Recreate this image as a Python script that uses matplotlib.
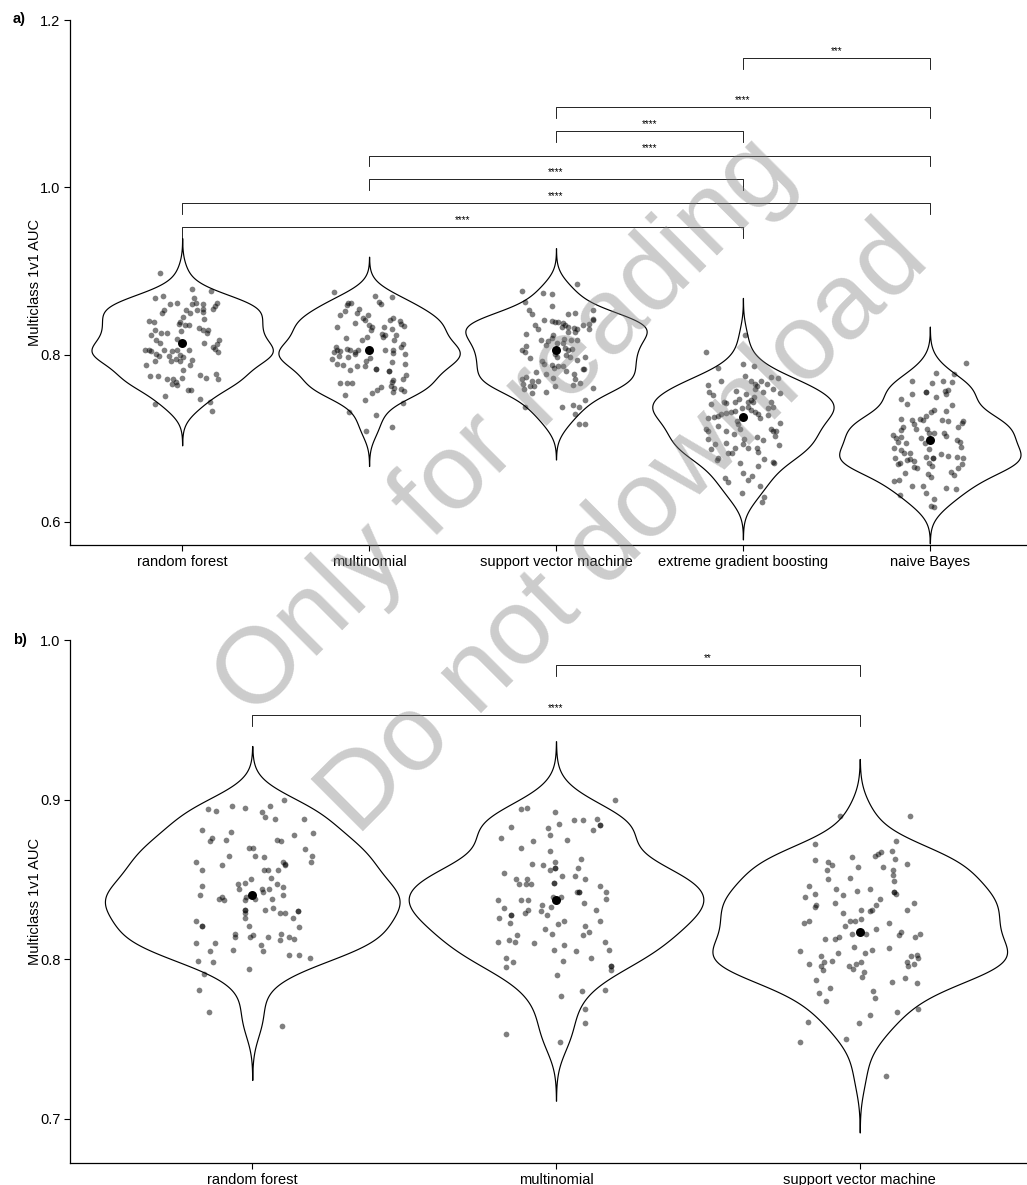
import numpy as np
import matplotlib
matplotlib.use("Agg")
import matplotlib.pyplot as plt

plt.rcParams['font.family'] = ['Liberation Sans', 'DejaVu Sans']

# ---------------- categories ----------------
cats_a = ['random forest', 'multinomial', 'support vector machine',
          'extreme gradient boosting', 'naive Bayes']
cats_b = ['random forest', 'multinomial', 'support vector machine']

# ---------------- panel a data (AUC values and horizontal jitter) ----------------
rf_a_auc = [0.898,0.879,0.876,0.868,0.870,0.868,0.860,0.862,0.860,0.862,
            0.860,0.862,0.858,0.853,0.850,0.853,0.850,0.853,0.855,0.851,
            0.854,0.845,0.839,0.843,0.840,0.839,0.837,0.836,0.836,0.830,
            0.826,0.826,0.828,0.832,0.830,0.830,0.826,0.824,0.818,0.814,
            0.819,0.814,0.817,0.813,0.809,0.807,0.803,0.805,0.806,0.804,
            0.801,0.805,0.804,0.805,0.805,0.800,0.798,0.798,0.793,0.795,
            0.797,0.794,0.793,0.792,0.788,0.788,0.782,0.775,0.775,0.771,
            0.771,0.767,0.765,0.764,0.772,0.776,0.772,0.777,0.771,0.758,
            0.758,0.750,0.747,0.741,0.743,0.733]
rf_a_jit = [-0.118,0.050,0.154,-0.145,-0.104,0.064,-0.064,-0.029,0.055,0.073,
            0.113,0.189,0.177,-0.096,-0.109,0.020,0.041,0.077,0.109,0.114,
            0.166,0.005,-0.013,0.118,-0.180,-0.150,-0.016,0.016,0.034,-0.146,
            -0.114,-0.079,-0.005,0.091,0.114,0.138,0.134,-0.168,-0.141,-0.120,
            -0.025,0.116,0.195,0.184,0.163,0.177,0.191,-0.198,-0.180,-0.168,
            -0.141,-0.096,-0.052,-0.025,0.038,-0.013,-0.123,-0.073,-0.061,-0.034,
            0.007,0.052,-0.145,-0.013,-0.196,0.043,0.005,-0.170,-0.127,-0.080,
            -0.048,-0.034,-0.052,-0.025,-0.002,0.096,0.127,0.180,0.193,0.030,
            0.048,-0.093,0.095,-0.145,0.148,0.159]

mn_a_auc = [0.875,0.870,0.863,0.860,0.869,0.862,0.862,0.859,0.854,0.850,
            0.848,0.852,0.848,0.844,0.841,0.844,0.841,0.840,0.837,0.834,
            0.838,0.833,0.836,0.833,0.829,0.833,0.831,0.825,0.821,0.823,
            0.823,0.817,0.813,0.809,0.820,0.817,0.821,0.809,0.807,0.805,
            0.805,0.804,0.803,0.803,0.805,0.806,0.806,0.802,0.801,0.798,
            0.797,0.801,0.795,0.793,0.796,0.791,0.789,0.789,0.788,0.786,
            0.786,0.783,0.783,0.780,0.780,0.782,0.776,0.771,0.770,0.767,
            0.763,0.760,0.759,0.757,0.755,0.766,0.766,0.766,0.761,0.758,
            0.754,0.752,0.746,0.742,0.732,0.728,0.713,0.709]
mn_a_jit = [-0.188,0.032,0.054,0.066,0.121,-0.113,-0.095,-0.116,-0.054,-0.066,
            -0.157,-0.130,-0.005,-0.030,-0.021,0.129,0.111,0.164,0.173,0.188,
            -0.077,-0.173,0.000,0.018,0.009,0.080,0.123,0.071,0.077,0.084,
            0.143,0.134,0.184,0.170,-0.125,-0.039,-0.013,-0.179,-0.120,-0.102,
            -0.170,-0.155,-0.188,-0.075,-0.057,0.084,0.129,0.130,0.193,-0.161,
            -0.113,-0.075,-0.200,-0.018,0.005,0.125,0.191,-0.173,-0.138,-0.063,
            -0.021,0.036,0.036,0.107,0.107,-0.102,0.196,0.184,0.130,0.120,
            0.116,0.134,0.173,0.188,0.130,-0.155,-0.120,-0.089,0.063,0.041,
            0.013,-0.129,-0.021,0.184,-0.107,0.039,0.121,-0.018]

svm_a_auc = [0.885,0.876,0.874,0.872,0.863,0.858,0.853,0.849,0.849,0.850,
             0.853,0.841,0.840,0.839,0.839,0.838,0.836,0.833,0.833,0.832,
             0.831,0.836,0.837,0.843,0.841,0.831,0.835,0.831,0.827,0.827,
             0.825,0.824,0.820,0.818,0.816,0.819,0.818,0.818,0.811,0.814,
             0.814,0.808,0.806,0.807,0.805,0.803,0.810,0.801,0.797,0.796,
             0.800,0.797,0.794,0.797,0.792,0.789,0.788,0.784,0.787,0.787,
             0.781,0.779,0.777,0.772,0.777,0.783,0.783,0.773,0.771,0.768,
             0.768,0.765,0.762,0.763,0.759,0.754,0.755,0.763,0.771,0.766,
             0.764,0.760,0.746,0.740,0.738,0.738,0.737,0.729,0.717,0.717]
svm_a_jit = [0.113,-0.184,-0.068,-0.023,-0.166,-0.023,-0.143,-0.130,0.066,0.102,
             0.196,-0.064,-0.023,-0.005,0.013,0.036,0.048,0.030,0.066,0.096,
             0.111,0.143,0.179,0.200,0.200,0.179,-0.113,-0.095,0.066,0.102,
             -0.161,-0.018,-0.023,-0.082,-0.041,0.043,0.079,0.114,-0.054,0.004,
             0.039,0.048,0.066,0.084,-0.184,-0.166,-0.161,-0.005,0.004,-0.139,
             0.054,0.075,0.111,0.155,-0.077,-0.064,-0.023,-0.011,0.013,0.036,
             0.054,-0.107,-0.054,-0.018,0.098,0.143,0.150,-0.161,-0.184,-0.130,
             -0.095,-0.175,-0.139,-0.118,-0.171,-0.127,-0.055,-0.005,0.102,0.129,
             0.093,0.196,0.157,0.093,0.125,-0.166,0.030,0.102,0.125,0.157]

xgb_a_auc = [0.823,0.803,0.784,0.789,0.786,0.775,0.769,0.765,0.762,0.768,
             0.765,0.773,0.772,0.764,0.768,0.759,0.754,0.755,0.759,0.755,
             0.752,0.756,0.753,0.749,0.746,0.747,0.744,0.743,0.742,0.741,
             0.744,0.744,0.743,0.737,0.736,0.738,0.734,0.731,0.729,0.736,
             0.733,0.731,0.730,0.729,0.727,0.725,0.724,0.728,0.724,0.721,
             0.717,0.711,0.715,0.711,0.709,0.709,0.705,0.711,0.709,0.709,
             0.718,0.703,0.699,0.693,0.694,0.699,0.693,0.689,0.702,0.698,
             0.687,0.688,0.683,0.682,0.688,0.684,0.692,0.677,0.674,0.675,
             0.672,0.671,0.670,0.667,0.658,0.655,0.650,0.653,0.648,0.643,
             0.630,0.624,0.635]
xgb_a_jit = [0.011,-0.195,-0.136,0.000,0.061,0.011,0.043,0.064,0.073,0.095,
             0.127,0.150,0.189,-0.186,-0.118,0.163,0.198,0.109,0.064,-0.182,
             -0.159,-0.039,0.014,0.061,0.043,-0.021,-0.043,-0.100,-0.093,-0.173,
             0.029,0.055,0.150,0.163,0.132,0.025,0.043,0.064,0.079,-0.007,
             -0.043,-0.064,-0.093,-0.118,-0.132,-0.154,-0.186,0.136,0.089,-0.034,
             -0.029,-0.016,-0.136,-0.200,-0.186,-0.088,-0.046,0.150,0.163,0.177,
             0.198,0.171,-0.189,-0.150,-0.088,0.007,0.002,0.025,0.073,0.109,
             -0.171,-0.043,-0.061,-0.082,0.073,0.079,0.195,-0.136,-0.141,0.113,
             0.163,0.168,-0.014,0.082,-0.002,0.050,0.025,-0.096,-0.082,0.093,
             0.111,0.100,-0.004]

nb_a_auc = [0.790,0.778,0.777,0.768,0.766,0.768,0.767,0.747,0.741,0.753,
            0.755,0.749,0.756,0.758,0.753,0.740,0.734,0.731,0.727,0.723,
            0.722,0.733,0.723,0.722,0.717,0.711,0.722,0.721,0.721,0.718,
            0.714,0.714,0.710,0.711,0.706,0.700,0.695,0.706,0.706,0.703,
            0.698,0.696,0.690,0.704,0.700,0.701,0.694,0.696,0.689,0.686,
            0.683,0.683,0.687,0.678,0.677,0.681,0.679,0.678,0.676,0.676,
            0.671,0.669,0.674,0.675,0.673,0.666,0.664,0.670,0.667,0.669,
            0.665,0.660,0.656,0.659,0.657,0.654,0.649,0.650,0.643,0.643,
            0.635,0.641,0.639,0.632,0.627,0.619,0.618,0.755,0.677]
nb_a_jit = [0.193,0.032,0.129,-0.095,0.014,0.071,0.120,-0.152,-0.120,-0.095,
            -0.018,0.032,0.080,0.095,0.089,0.116,0.021,0.005,-0.021,-0.054,
            -0.036,0.084,-0.155,-0.098,-0.084,-0.075,0.063,0.095,0.179,0.173,
            0.152,-0.143,-0.152,-0.013,-0.005,-0.048,-0.027,0.023,0.077,0.084,
            0.143,0.161,0.166,-0.196,-0.179,-0.152,-0.125,-0.173,-0.191,-0.152,
            -0.107,-0.138,-0.005,-0.021,0.018,0.059,0.095,0.143,0.179,-0.184,
            -0.161,-0.170,-0.120,-0.107,-0.084,-0.084,-0.071,-0.005,0.013,0.173,
            0.152,0.111,0.130,-0.134,-0.009,0.005,-0.191,-0.164,-0.098,-0.036,
            -0.018,0.086,0.139,-0.161,0.023,0.005,0.021,-0.018,0.018]

means_a = [0.814, 0.806, 0.806, 0.726, 0.698]

# ---------------- panel b data ----------------
rf_b_auc = [0.900,0.896,0.895,0.896,0.894,0.893,0.892,0.889,0.888,0.888,
            0.881,0.880,0.876,0.874,0.875,0.875,0.874,0.878,0.879,0.869,
            0.865,0.861,0.870,0.870,0.865,0.864,0.865,0.861,0.859,0.861,
            0.860,0.859,0.856,0.856,0.856,0.856,0.851,0.848,0.850,0.847,
            0.844,0.846,0.840,0.844,0.844,0.847,0.845,0.840,0.842,0.838,
            0.839,0.837,0.839,0.837,0.838,0.838,0.831,0.832,0.831,0.829,
            0.826,0.829,0.829,0.826,0.830,0.824,0.821,0.821,0.820,0.816,
            0.814,0.814,0.815,0.814,0.816,0.814,0.813,0.812,0.810,0.810,
            0.809,0.805,0.806,0.805,0.803,0.803,0.801,0.799,0.798,0.794,
            0.791,0.781,0.767,0.758,0.831,0.830,0.821]
rf_b_jit = [0.105,-0.067,-0.023,0.058,-0.147,-0.118,0.032,0.043,0.075,0.172,
            -0.164,-0.070,-0.131,-0.139,-0.087,0.083,0.094,0.138,0.199,0.175,
            0.197,0.193,-0.010,0.001,0.010,0.040,-0.076,-0.186,-0.100,0.100,
            0.109,0.107,-0.167,0.040,0.051,0.086,0.062,-0.025,-0.005,-0.048,
            -0.043,-0.164,-0.172,0.032,0.056,0.083,0.100,0.102,0.034,-0.109,
            -0.100,-0.092,-0.021,-0.024,0.010,0.065,0.043,0.069,-0.023,-0.025,
            -0.025,0.091,0.107,0.133,0.152,-0.186,-0.167,-0.010,0.153,-0.056,
            -0.058,-0.007,0.001,0.051,0.096,0.122,0.138,0.092,-0.186,-0.122,
            0.029,-0.139,-0.063,0.037,0.122,0.155,0.191,-0.177,-0.128,-0.010,
            -0.160,-0.175,-0.142,0.097,-0.023,0.152,-0.167]

mn_b_auc = [0.894,0.895,0.892,0.885,0.887,0.887,0.888,0.884,0.881,0.883,
            0.882,0.878,0.876,0.874,0.870,0.875,0.868,0.863,0.861,0.857,
            0.860,0.859,0.856,0.857,0.852,0.852,0.854,0.850,0.850,0.847,
            0.847,0.847,0.850,0.848,0.846,0.842,0.838,0.842,0.842,0.835,
            0.837,0.832,0.837,0.837,0.839,0.839,0.834,0.830,0.833,0.831,
            0.829,0.828,0.828,0.826,0.823,0.831,0.824,0.822,0.819,0.816,
            0.821,0.817,0.815,0.824,0.815,0.811,0.812,0.811,0.810,0.809,
            0.806,0.805,0.811,0.806,0.801,0.798,0.795,0.799,0.801,0.796,
            0.793,0.790,0.781,0.780,0.777,0.769,0.760,0.753,0.748,0.900,
            0.884,0.857,0.848,0.842,0.828,0.796]
mn_b_jit = [-0.116,-0.096,-0.003,0.010,0.058,0.088,0.134,0.145,0.121,-0.149,
            -0.025,-0.020,-0.182,-0.075,-0.114,0.035,-0.020,0.081,-0.003,-0.004,
            -0.078,-0.044,-0.020,0.071,0.019,0.063,-0.172,-0.133,-0.094,-0.121,
            -0.098,-0.082,0.097,-0.007,0.144,0.166,0.164,0.068,0.077,0.093,
            -0.191,-0.170,-0.114,-0.091,-0.011,0.015,-0.046,-0.049,-0.016,-0.092,
            -0.103,-0.031,-0.149,-0.189,-0.153,0.131,0.025,0.007,-0.036,-0.014,
            0.097,0.110,0.090,0.146,-0.130,-0.191,-0.154,-0.135,-0.072,0.026,
            -0.008,0.066,0.160,0.174,-0.163,-0.143,-0.165,0.022,0.114,0.182,
            0.182,0.004,0.161,0.087,0.016,0.096,0.096,-0.163,0.013,0.194,
            0.145,-0.004,-0.007,0.077,-0.149,0.182]

svm_b_auc = [0.890,0.890,0.872,0.874,0.862,0.861,0.859,0.856,0.850,0.864,
             0.858,0.851,0.865,0.866,0.867,0.868,0.863,0.860,0.858,0.856,
             0.853,0.849,0.846,0.839,0.841,0.834,0.833,0.844,0.840,0.843,
             0.844,0.835,0.829,0.838,0.834,0.831,0.830,0.831,0.842,0.841,
             0.831,0.835,0.823,0.824,0.824,0.824,0.825,0.821,0.816,0.816,
             0.819,0.823,0.814,0.813,0.813,0.817,0.815,0.814,0.816,0.805,
             0.808,0.804,0.804,0.806,0.807,0.802,0.798,0.796,0.793,0.797,
             0.799,0.796,0.794,0.797,0.798,0.792,0.789,0.798,0.802,0.803,
             0.801,0.796,0.797,0.787,0.782,0.779,0.774,0.786,0.788,0.785,
             0.780,0.776,0.761,0.748,0.750,0.760,0.765,0.767,0.769,0.727,
             0.842]
svm_b_jit = [-0.065,0.166,-0.146,0.118,-0.146,-0.104,-0.093,-0.108,-0.105,-0.024,
             -0.007,-0.031,0.049,0.060,0.071,0.107,0.115,0.155,0.075,0.110,
             0.110,0.112,-0.166,-0.181,-0.148,-0.143,-0.146,-0.077,-0.056,-0.008,
             0.034,-0.080,-0.054,0.066,0.052,0.041,0.034,0.005,0.113,0.119,
             0.156,0.179,-0.183,-0.168,-0.033,-0.014,0.005,-0.049,-0.027,0.019,
             0.054,0.096,-0.068,-0.082,-0.115,0.135,0.128,0.182,0.199,-0.197,
             -0.018,-0.071,0.016,0.040,0.097,-0.128,-0.118,-0.128,-0.120,-0.166,
             -0.093,-0.035,-0.022,-0.011,0.003,0.013,0.008,0.157,0.170,0.190,
             0.192,0.159,0.179,-0.145,-0.098,-0.133,-0.111,0.107,0.150,0.190,
             0.043,0.049,-0.170,-0.197,-0.046,-0.001,0.033,0.124,0.191,0.086,
             0.113]

means_b = [0.840, 0.837, 0.817]

# significance brackets: (group i, group j, label, height)
sig_a = [(3, 4, '***', 1.154), (2, 4, '****', 1.096), (2, 3, '****', 1.067),
         (1, 4, '****', 1.038), (1, 3, '****', 1.010), (0, 4, '****', 0.981),
         (0, 3, '****', 0.952)]
sig_b = [(1, 2, '**', 0.9843), (0, 2, '****', 0.9530)]

groups_a = [(rf_a_auc, rf_a_jit), (mn_a_auc, mn_a_jit), (svm_a_auc, svm_a_jit),
            (xgb_a_auc, xgb_a_jit), (nb_a_auc, nb_a_jit)]
groups_b = [(rf_b_auc, rf_b_jit), (mn_b_auc, mn_b_jit), (svm_b_auc, svm_b_jit)]


def bw_nrd0(v):
    v = np.asarray(v, float)
    sd = v.std(ddof=1)
    q75, q25 = np.percentile(v, [75, 25])
    lo = min(sd, (q75 - q25) / 1.34)
    return 0.9 * lo * len(v) ** -0.2


def draw_violin(ax, pos, vals, half_width):
    v = np.asarray(vals, float)
    bw = bw_nrd0(v)
    grid = np.linspace(v.min() - 3 * bw, v.max() + 3 * bw, 512)
    dens = np.exp(-0.5 * ((grid[:, None] - v[None, :]) / bw) ** 2).sum(axis=1)
    d = dens / dens.max() * half_width
    ax.fill_betweenx(grid, pos - d, pos + d, facecolor='white',
                     edgecolor='black', linewidth=0.85, zorder=2)


def draw_panel(ax, cats, groups, means, sigs, tick_len, ylim, yticks):
    for i, (vals, jit) in enumerate(groups):
        draw_violin(ax, i, vals, 0.485)
        n = min(len(vals), len(jit))
        ax.scatter(np.array(jit[:n]) + i, vals[:n], s=17, color='black',
                   alpha=0.5, linewidths=0, zorder=3)
    ax.scatter(range(len(cats)), means, s=42, color='black', zorder=4,
               linewidths=0)
    for i, j, lab, h in sigs:
        ax.plot([i, i, j, j], [h - tick_len, h, h, h - tick_len],
                color='black', linewidth=0.6, zorder=5)
        ax.annotate(lab, xy=((i + j) / 2, h), xytext=(0, 1.5),
                    textcoords='offset points', ha='center', va='bottom',
                    fontsize=7)
    ax.set_xlim(-0.6, len(cats) - 1 + 0.6)
    ax.set_ylim(*ylim)
    ax.set_xticks(range(len(cats)))
    ax.set_xticklabels(cats)
    ax.set_yticks(yticks)
    ax.set_yticklabels([f'{t:.1f}' for t in yticks])
    for s in ['top', 'right']:
        ax.spines[s].set_visible(False)
    for s in ['left', 'bottom']:
        ax.spines[s].set_linewidth(0.9)
    ax.tick_params(axis='both', length=4, width=0.8, labelsize=10.5,
                   colors='black', pad=3)
    ax.set_ylabel('Multiclass 1v1 AUC', fontsize=10.5)
    ax.yaxis.set_label_coords(-0.029, 0.5)
    ax.set_facecolor('none')


W, H = 1027, 1185
fig = plt.figure(figsize=(W / 100, H / 100), dpi=100)

ax_a = fig.add_axes([70 / W, 1 - 545 / H, 972 / W, 525 / H])
draw_panel(ax_a, cats_a, groups_a, means_a, sig_a, 0.013,
           (0.5725, 1.2), [0.6, 0.8, 1.0, 1.2])

ax_b = fig.add_axes([70 / W, 1 - 1163 / H, 972 / W, 523 / H])
draw_panel(ax_b, cats_b, groups_b, means_b, sig_b, 0.0069,
           (0.6724, 1.0), [0.7, 0.8, 0.9, 1.0])

fig.text(13 / W, 1 - 19 / H, 'a)', fontsize=10.5, fontweight='bold',
         ha='left', va='center')
fig.text(13 / W, 1 - 640 / H, 'b)', fontsize=10.5, fontweight='bold',
         ha='left', va='center')

# watermark
fig.text(505 / W, 1 - 428 / H, 'Only for reading', rotation=45,
         rotation_mode='anchor', ha='center', va='center', fontsize=78,
         color='#808080', alpha=0.4, zorder=10)
fig.text(625 / W, 1 - 530 / H, 'Do not download', rotation=45,
         rotation_mode='anchor', ha='center', va='center', fontsize=78,
         color='#808080', alpha=0.4, zorder=10)

fig.savefig('out.png', dpi=100)
